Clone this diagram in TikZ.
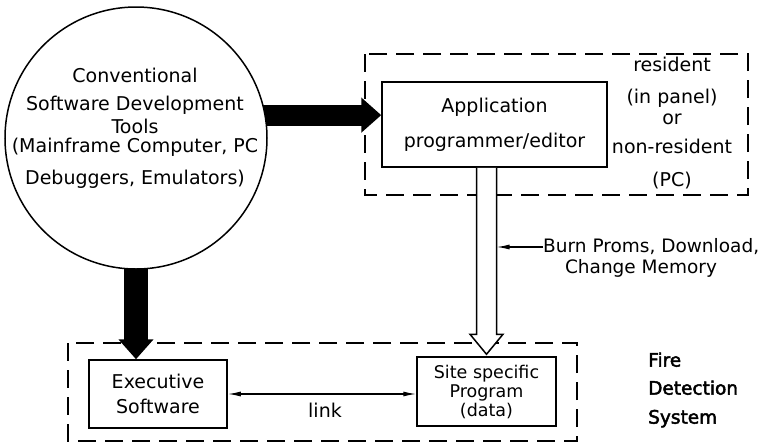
\documentclass[tikz,border=0pt]{standalone}
\usepackage{fontspec}
\setmainfont{DejaVu Sans}
\newfontfamily\heavyfont[FakeBold=2.5]{DejaVu Sans}
\usetikzlibrary{arrows.meta,calc,backgrounds}

\begin{document}
\begin{tikzpicture}[x=1pt,y=-1pt,
  txt/.style={font=\fontsize{19}{22}\selectfont,inner sep=0pt,align=center},
  smalltxt/.style={font=\fontsize{17.5}{19}\selectfont,inner sep=0pt,align=center},
  box/.style={draw,line width=1.5pt,fill=white,inner sep=0pt},
  frame/.style={draw,line width=1.8pt,dash pattern=on 18pt off 9pt},
  bigarrow/.style={line width=#1,-{Triangle[length=20pt,width=34pt]}},
  hollow/.style={draw,line width=1.5pt,fill=white,line join=miter},
  thin/.style={line width=1.3pt,-{Latex[length=13pt,width=5pt]}},
  thinboth/.style={line width=1.3pt,{Latex[length=13pt,width=5pt]}-{Latex[length=13pt,width=5pt]}}]

\useasboundingbox (0,0) rectangle (761,445);

% dashed system borders
\draw[frame] (365,54) rectangle (748,195);
\draw[frame] (68,343) rectangle (577,441);

% development tools
\node[circle,draw,line width=1.5pt,fill=white,minimum size=262pt,inner sep=0pt] (tools) at (136,138) {};
\node[txt] (toolstxt) at (135,128.5) {Conventional\\[6pt]Software Development\\[1pt]Tools\\[-3pt](Mainframe Computer, PC\\[10pt]Debuggers, Emulators)};

% application editor
\node[box,txt,minimum width=225pt,minimum height=85pt] (app) at (494.5,124.5) {Application\\[13pt]programmer/editor};
\node[txt] (where) at (672,123) {resident\\[10pt](in panel)\\[-1pt]or\\[7pt]non-resident\\[11pt](PC)};

% fire detection system parts
\node[box,txt,minimum width=138pt,minimum height=68pt] (exec) at (158,394) {Executive\\[3pt]Software};
\node[box,smalltxt,minimum width=139pt,minimum height=69pt] (site) at (486.5,391.5) {Site specific\\Program\\(data)};
\node[txt,anchor=west,align=left,font=\heavyfont\fontsize{18.5}{22}\selectfont] (fds) at (648,390) {Fire\\[6pt]Detection\\[7pt]System};

% link between executive and site program
\draw[thinboth] (exec.east) -- (exec.east -| site.west);
\node[txt] (linklbl) at (325,410) {link};

% black transfer arrows, underneath the circle
\begin{scope}[on background layer]
  \draw[bigarrow=21pt] (tools.center |- tools.10) -- (tools.10 -| app.west);
  \draw[bigarrow=24pt] (tools.center) -- (tools.center |- exec.north);
\end{scope}

% hollow download arrow
\draw[hollow] ($(app.south -| site.north)+(-10,0)$) -- ($(site.north)+(-10,-22)$)
  -- ($(site.north)+(-16.5,-22)$) -- ($(site.north)+(0,-2)$) -- ($(site.north)+(16.5,-22)$)
  -- ($(site.north)+(10,-22)$) -- ($(app.south -| site.north)+(10,0)$);
\coordinate (shaftR) at ($(site.north)+(10,0)$);

% download label
\node[txt,anchor=west,font=\fontsize{18.5}{22}\selectfont] (burn1) at (543,247) {Burn Proms, Download,};
\node[txt,font=\fontsize{18.5}{22}\selectfont] (burn2) at (641,268) {Change Memory};
\draw[thin] (burn1.west) -- (burn1.west -| shaftR);

\end{tikzpicture}
\end{document}
